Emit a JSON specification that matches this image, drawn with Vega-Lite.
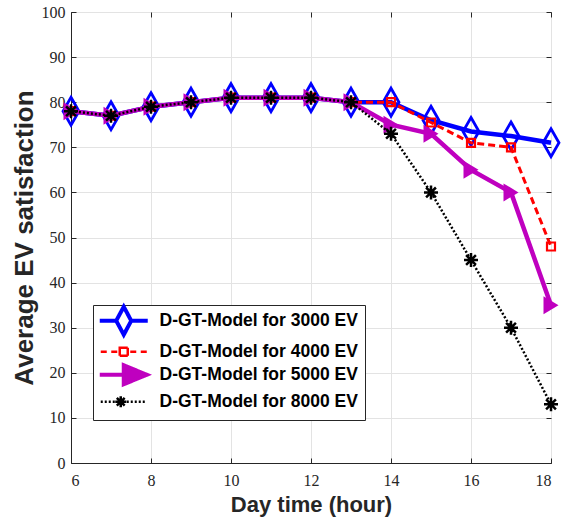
{
  "$schema": "https://vega.github.io/schema/vega-lite/v6.json",
  "width": 480,
  "height": 451,
  "autosize": "none",
  "padding": {"left": 71, "top": 12, "right": 11, "bottom": 60},
  "background": "white",
  "config": {
    "view": {"stroke": "#262626", "strokeWidth": 1},
    "font": "Liberation Sans",
    "axis": {
      "domainColor": "#262626",
      "tickColor": "#262626",
      "tickSize": -5,
      "gridColor": "#e3e3e3",
      "gridWidth": 1,
      "labelFont": "Liberation Sans Narrow",
      "labelFontSize": 16,
      "labelColor": "#262626",
      "titleFont": "Liberation Sans",
      "titleFontWeight": "bold",
      "titleColor": "#262626"
    }
  },
  "data": {
    "values": [
      {"series": "3000", "hour": 6, "value": 78}, {"series": "3000", "hour": 7, "value": 77}, {"series": "3000", "hour": 8, "value": 79}, {"series": "3000", "hour": 9, "value": 80}, {"series": "3000", "hour": 10, "value": 81}, {"series": "3000", "hour": 11, "value": 81}, {"series": "3000", "hour": 12, "value": 81}, {"series": "3000", "hour": 13, "value": 80}, {"series": "3000", "hour": 14, "value": 80}, {"series": "3000", "hour": 15, "value": 76}, {"series": "3000", "hour": 16, "value": 73.5}, {"series": "3000", "hour": 17, "value": 72.5}, {"series": "3000", "hour": 18, "value": 71},
      {"series": "4000", "hour": 6, "value": 78}, {"series": "4000", "hour": 7, "value": 77}, {"series": "4000", "hour": 8, "value": 79}, {"series": "4000", "hour": 9, "value": 80}, {"series": "4000", "hour": 10, "value": 81}, {"series": "4000", "hour": 11, "value": 81}, {"series": "4000", "hour": 12, "value": 81}, {"series": "4000", "hour": 13, "value": 80}, {"series": "4000", "hour": 14, "value": 80}, {"series": "4000", "hour": 15, "value": 75.5}, {"series": "4000", "hour": 16, "value": 71}, {"series": "4000", "hour": 17, "value": 70}, {"series": "4000", "hour": 18, "value": 48},
      {"series": "5000", "hour": 6, "value": 78}, {"series": "5000", "hour": 7, "value": 77}, {"series": "5000", "hour": 8, "value": 79}, {"series": "5000", "hour": 9, "value": 80}, {"series": "5000", "hour": 10, "value": 81}, {"series": "5000", "hour": 11, "value": 81}, {"series": "5000", "hour": 12, "value": 81}, {"series": "5000", "hour": 13, "value": 80}, {"series": "5000", "hour": 14, "value": 75}, {"series": "5000", "hour": 15, "value": 73}, {"series": "5000", "hour": 16, "value": 65}, {"series": "5000", "hour": 17, "value": 60}, {"series": "5000", "hour": 18, "value": 35},
      {"series": "8000", "hour": 6, "value": 78}, {"series": "8000", "hour": 7, "value": 77}, {"series": "8000", "hour": 8, "value": 79}, {"series": "8000", "hour": 9, "value": 80}, {"series": "8000", "hour": 10, "value": 81}, {"series": "8000", "hour": 11, "value": 81}, {"series": "8000", "hour": 12, "value": 81}, {"series": "8000", "hour": 13, "value": 80}, {"series": "8000", "hour": 14, "value": 73}, {"series": "8000", "hour": 15, "value": 60}, {"series": "8000", "hour": 16, "value": 45}, {"series": "8000", "hour": 17, "value": 30}, {"series": "8000", "hour": 18, "value": 13}
    ]
  },
  "layer": [
    {
      "encoding": {
        "x": {
          "field": "hour", "type": "quantitative",
          "scale": {"domain": [6, 18], "nice": false, "zero": false},
          "axis": {"values": [6, 8, 10, 12, 14, 16, 18], "title": "Day time (hour)", "titleFontSize": 22, "labelPadding": 14, "titlePadding": 6}
        },
        "y": {
          "field": "value", "type": "quantitative",
          "scale": {"domain": [0, 100], "nice": false},
          "axis": {"values": [0, 10, 20, 30, 40, 50, 60, 70, 80, 90, 100], "title": "Average EV satisfaction", "titleFontSize": 26, "labelPadding": 11, "titlePadding": 4}
        },
        "color": {
          "field": "series", "type": "nominal",
          "scale": {"domain": ["3000", "4000", "5000", "8000"], "range": ["#0000ff", "#ff0000", "#bf00bf", "#000000"]},
          "legend": {
            "orient": "none", "legendX": 22, "legendY": 293,
            "title": null,
            "padding": 7,
            "strokeColor": "#262626",
            "fillColor": "white",
            "cornerRadius": 0,
            "symbolSize": 400,
            "symbolStrokeWidth": 2.5,
            "symbolOffset": 15,
            "labelOffset": 27,
            "labelLimit": 400,
            "rowPadding": -4,
            "labelFont": "Liberation Sans",
            "labelFontWeight": "bold",
            "labelFontSize": 17.5,
            "labelColor": "black",
            "labelExpr": "'D-GT-Model for ' + datum.label + ' EV'",
            "encode": {
              "symbols": {
                "update": {
                  "shape": {"signal": "datum.value == '3000' ? 'M-2.4,0L-0.75,0M0.75,0L2.4,0M0,-1.4L0.75,0L0,1.4L-0.75,0Z' : datum.value == '4000' ? 'M-2.3,0L-1.7,0M-1.25,0L-0.65,0M0.65,0L1.25,0M1.7,0L2.3,0M-0.4,-0.4L0.4,-0.4L0.4,0.4L-0.4,0.4Z' : datum.value == '5000' ? 'M-2.4,0L0,0M0,-0.95L2.3,0L0,0.95Z' : 'M-2.3,0L-2.1,0M-1.9,0L-1.7,0M-1.5,0L-1.3,0M-1.1,0L-0.9,0M0.3,0L0.5,0M0.7,0L0.9,0M1.1,0L1.3,0M1.5,0L1.7,0M1.9,0L2.1,0M-0.85,0L0.25,0M-0.3,-0.55L-0.3,0.55M-0.69,-0.39L0.09,0.39M-0.69,0.39L0.09,-0.39'"},
                  "size": {"value": 400},
                  "fill": {"signal": "datum.value == '5000' ? '#bf00bf' : '#ffffff'"},
                  "fillOpacity": {"signal": "datum.value == '5000' ? 1 : 0"},
                  "stroke": {"signal": "datum.value == '3000' ? '#0000ff' : datum.value == '4000' ? '#ff0000' : datum.value == '5000' ? '#bf00bf' : '#000000'"},
                  "strokeWidth": {"signal": "datum.value == '3000' || datum.value == '5000' ? 4 : 2.5"},
                  "strokeDash": {"value": [1, 0]},
                  "opacity": {"value": 1}
                }
              }
            }
          }
        }
      },
      "layer": [
        {"transform": [{"filter": "datum.series == '3000'"}], "mark": {"type": "line", "strokeWidth": 4.5}},
        {"transform": [{"filter": "datum.series == '3000'"}], "mark": {"type": "point", "shape": "M0,-1L0.57,0L0,1L-0.57,0Z", "size": 784, "strokeWidth": 2.8, "filled": false, "opacity": 1}},
        {"transform": [{"filter": "datum.series == '4000'"}], "mark": {"type": "line", "strokeWidth": 3, "strokeDash": [7, 4]}},
        {"transform": [{"filter": "datum.series == '4000'"}], "mark": {"type": "point", "shape": "square", "size": 64, "strokeWidth": 2.2, "filled": false, "opacity": 1}},
        {"transform": [{"filter": "datum.series == '5000'"}], "mark": {"type": "line", "strokeWidth": 4.5}},
        {"transform": [{"filter": "datum.series == '5000'"}], "mark": {"type": "point", "shape": "M-0.5,-0.6L0.5,0L-0.5,0.6Z", "size": 900, "filled": true, "opacity": 1}},
        {"transform": [{"filter": "datum.series == '8000'"}], "mark": {"type": "line", "strokeWidth": 2.5, "strokeDash": [2, 2]}},
        {"transform": [{"filter": "datum.series == '8000'"}], "mark": {"type": "point", "shape": "M-1,0L1,0M0,-1L0,1M-0.7,-0.7L0.7,0.7M-0.7,0.7L0.7,-0.7", "size": 196, "strokeWidth": 2.5, "filled": false, "opacity": 1}}
      ]
    },
    {
      "mark": {"type": "point", "opacity": 0},
      "encoding": {
        "x": {"field": "hour", "type": "quantitative", "axis": {"orient": "top", "values": [6, 8, 10, 12, 14, 16, 18], "labels": false, "domain": false, "grid": false, "title": null}},
        "y": {"field": "value", "type": "quantitative", "axis": {"orient": "right", "values": [0, 10, 20, 30, 40, 50, 60, 70, 80, 90, 100], "labels": false, "domain": false, "grid": false, "title": null}}
      }
    }
  ],
  "resolve": {"axis": {"x": "independent", "y": "independent"}}
}
